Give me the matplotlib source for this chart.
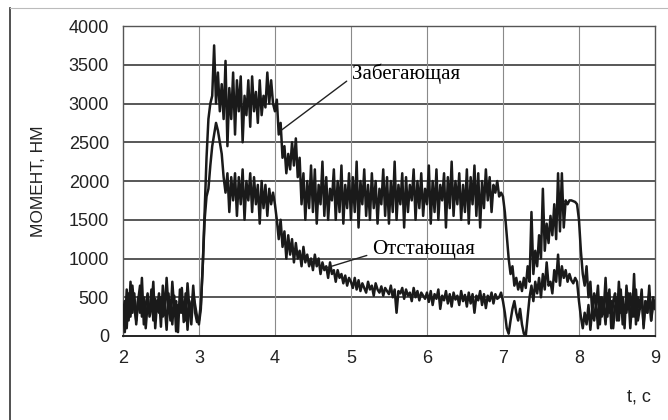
import numpy as np
import matplotlib
matplotlib.use("Agg")
import matplotlib.pyplot as plt
from matplotlib.lines import Line2D

# sampled every 0.025 s, one row per half second
T0, DT = 2.0, 0.025
lead = [
    380, 50, 600, 200, 700, 300, 550, 150, 450, 650, 250, 500, 100, 420, 300, 600, 200, 480, 350, 550,
    120, 650, 280, 750, 350, 450, 150, 520, 60, 400, 300, 620, 180, 550, 80, 450, 250, 650, 300, 180,
    200, 400, 900, 1600, 2300, 2800, 3000, 3100, 3750, 3000, 3400, 2900, 3250, 2800, 3550, 2450, 3200, 2800, 3400, 2600,
    3300, 2900, 3350, 2500, 3100, 2850, 3300, 2700, 3350, 2900, 3150, 2750, 3300, 2850, 3100, 2950, 3400, 3000, 3300, 3000,
    2900, 3050, 2600, 2750, 2300, 2450, 2100, 2350, 2150, 2500, 2200, 2550, 2050, 2300, 1700, 2100, 1500, 2000, 1650, 2200,
    1600, 2150, 1450, 1950, 1700, 2250, 1550, 2050, 1500, 1900, 1750, 2150, 1500, 2000, 1600, 2200, 1450, 1950, 1650, 2100,
    1500, 2050, 1600, 2250, 1400, 2000, 1700, 2150, 1550, 1950, 1500, 2100, 1650, 2000, 1450, 1900, 1700, 2150, 1550, 2050,
    1450, 2000, 1600, 2250, 1500, 1950, 1700, 2100, 1400, 2050, 1600, 1950, 1750, 2150, 1500, 2000, 1650, 2100, 1550, 1900,
    1700, 2200, 1450, 2000, 1600, 2150, 1500, 1950, 1750, 2100, 1400, 2050, 1650, 2250, 1550, 2000, 1700, 2100, 1500, 1950,
    1600, 2150, 1450, 2050, 1700, 2200, 1550, 2100, 1400, 2000, 1650, 2150, 1750, 2050, 1600, 1950, 1850, 2000, 1800, 1850,
    1800, 1600, 1300, 1000, 800, 900, 650, 750, 600, 700, 580, 750, 620, 900, 700, 1600, 800, 1100, 900, 1300,
    1000, 1900, 1100, 1450, 1200, 1550, 1300, 1700, 1250, 2100, 1350, 2100, 1400, 1750, 1700, 1750, 1750, 1740, 1730, 1700,
    1500, 1100, 800, 650, 900, 500, 700, 300, 550, 400, 650, 150, 500, 300, 750, 250, 600, 100, 450, 550,
    200, 700, 300, 500, 100, 650, 350, 550, 250, 800, 150, 500, 350, 600, 100, 450, 300, 650, 200, 500,
    400,
]
lag = [
    300, 450, 100, 550, 250, 650, 350, 200, 500, 300, 750, 150, 400, 550, 250, 350, 700, 100, 450, 300,
    500, 250, 400, 80, 550, 200, 700, 350, 450, 50, 600, 300, 400, 200, 680, 350, 150, 550, 400, 250,
    150, 350, 900, 1500, 1800, 1900, 2200, 2450, 2600, 2750, 2650, 2500, 2350, 2050, 1850, 2100, 1600, 2050, 1750, 2100,
    1550, 2050, 1700, 2150, 1500, 2000, 1750, 2100, 1600, 2050, 1700, 1950, 1450, 2000, 1650, 1950, 1550, 1900, 1700, 1850,
    1700, 1500, 1250, 1500, 1150, 1350, 1000, 1300, 1050, 1250, 950, 1200, 1000, 1100, 900, 1150, 950, 1050, 900, 1000,
    850, 1050, 900, 1000, 800, 950, 850, 900, 750, 950, 800, 850, 700, 850, 750, 800, 680, 780, 650, 750,
    700, 620, 750, 600, 720, 580, 680, 620, 560, 700, 600, 650, 520, 680, 600, 560, 640, 520, 620, 580,
    540, 650, 500, 600, 300, 580, 550, 620, 480, 600, 520, 560, 450, 620, 500, 580, 460, 560, 520, 480,
    560, 440, 580, 400, 540, 480, 600, 350, 520, 460, 580, 420, 540, 380, 560, 470, 520, 400, 580, 450,
    530, 380, 560, 420, 540, 300, 520, 460, 580, 400, 540, 360, 520, 450, 560, 420, 540, 480, 500, 560,
    450, 300, 100, 30, 200, 350, 450, 300, 200, 350, 150, 30, 0, 250, 500, 650, 450, 700, 550, 750,
    500, 800, 600, 950, 650, 700, 550, 850, 700, 1050, 650, 900, 750, 850, 700, 800, 720, 680, 750, 700,
    450, 250, 100, 300, 150, 400, 80, 350, 200, 450, 100, 500, 250, 400, 150, 550, 300, 450, 100, 380,
    500, 200, 600, 150, 400, 300, 550, 100, 450, 250, 600, 200, 350, 500, 150, 450, 300, 550, 200, 400,
    350,
]
x_ticks = [2, 3, 4, 5, 6, 7, 8, 9]
y_ticks = [0, 500, 1000, 1500, 2000, 2500, 3000, 3500, 4000]
LBL_LEAD, LBL_LAG = "Забегающая", "Отстающая"

t = T0 + DT * np.arange(len(lead))

plt.rcParams["font.family"] = ["Liberation Sans", "DejaVu Sans"]
fig = plt.figure(figsize=(6.68, 4.2), dpi=100)
ax = fig.add_axes([0.184, 0.2, 0.7965, 0.738])

for v in y_ticks[1:-1]:
    ax.axhline(v, color="#2a2a2a", lw=1.1, zorder=1)
for v in x_ticks[1:-1]:
    ax.axvline(v, color="#8a8a8a", lw=0.8, zorder=1)

ax.plot(t, lag, color="#1a1a1a", lw=1.8, zorder=3)
ax.plot(t, lead, color="#1a1a1a", lw=1.8, zorder=3)

ax.set_xlim(2, 9); ax.set_ylim(0, 4000)
ax.set_xticks(x_ticks); ax.set_yticks(y_ticks)
ax.tick_params(length=0, labelsize=13, colors="#222222", pad=10)
for s in ax.spines.values():
    s.set_color("#555555"); s.set_linewidth(1.0)
ax.spines["bottom"].set_color("#222222"); ax.spines["bottom"].set_linewidth(1.4)
ax.set_ylabel("МОМЕНТ, НМ", fontsize=12.5, color="#222222", labelpad=16)
fig.text(0.957, 0.045, "t, c", fontsize=13, color="#222222", ha="center")

ax.annotate(LBL_LEAD, xy=(4.09, 2660), xytext=(5.01, 3390), fontsize=15,
            family="Liberation Serif", va="center",
            arrowprops=dict(arrowstyle="-", color="#222222", lw=1.0, shrinkA=2, shrinkB=0,
                            relpos=(0, 0.3)))
ax.annotate(LBL_LAG, xy=(4.68, 880), xytext=(5.28, 1110), fontsize=15,
            family="Liberation Serif", va="center",
            arrowprops=dict(arrowstyle="-", color="#222222", lw=1.0, shrinkA=2, shrinkB=0,
                            relpos=(0, 0.3)))

# scan border
fig.add_artist(Line2D([0.015, 0.015], [0, 0.98], color="#333333", lw=1.2))
fig.add_artist(Line2D([0.015, 1], [0.98, 0.98], color="#bbbbbb", lw=0.8))

fig.savefig("out.png", dpi=100)
